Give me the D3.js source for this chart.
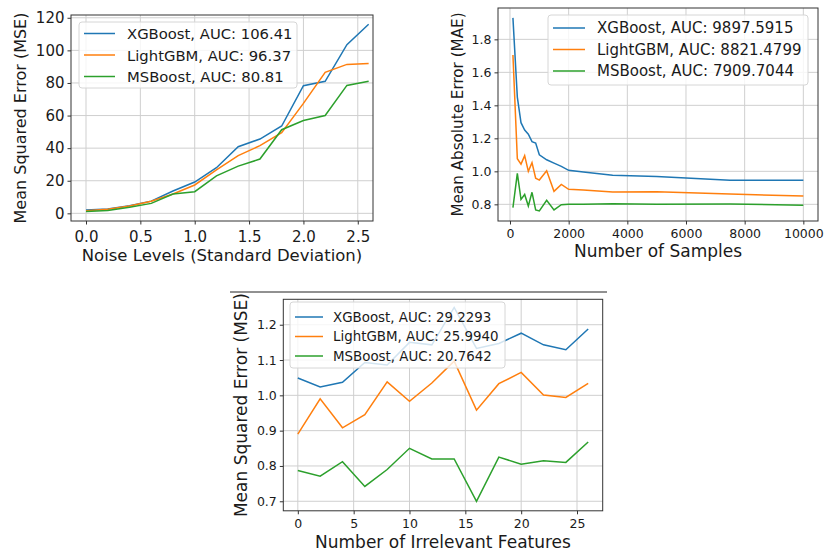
<!DOCTYPE html>
<html>
<head>
<meta charset="utf-8">
<script src="https://cdn.jsdelivr.net/npm/d3@7"></script>
<style>
  body { margin: 0; background: #fff; }
  svg { display: block; font-family: "DejaVu Sans", sans-serif; }
  text { fill: #1a1a1a; }
</style>
</head>
<body>
<svg id="chart"></svg>
<script>
// ---- data ----
const modelNames = ['XGBoost', 'LightGBM', 'MSBoost'];
const colors = ['#1f77b4', '#ff7f0e', '#2ca02c'];

// panel 1: noise levels
const noiseLevels = [0, 0.2, 0.4, 0.6, 0.8, 1.0, 1.2, 1.4, 1.6, 1.8, 2.0, 2.2, 2.4, 2.6];
const noiseXgb = [2.0, 2.7, 4.7, 7.5, 13.7, 19.2, 28.0, 40.9, 45.6, 53.6, 78.3, 81.0, 103.5, 116.0];
const noiseLgbm = [1.6, 2.5, 4.5, 7.4, 11.9, 17.4, 26.6, 35.4, 41.5, 49.5, 67.5, 86.5, 91.4, 92.0];
const noiseMsb = [1.2, 1.8, 3.7, 6.1, 11.9, 13.3, 23.0, 29.0, 33.3, 51.3, 57.0, 60.0, 78.5, 81.0];
const noiseAuc = ['106.41', '96.37', '80.81'];
const noiseYTicks = [0, 20, 40, 60, 80, 100, 120];
const noiseXTicks = [0, 0.5, 1.0, 1.5, 2.0, 2.5];

// panel 2: number of samples
const sampleSizes = [100, 250, 375, 500, 625, 750, 875, 1000, 1250, 1500, 1750, 2000, 2500, 3500, 5000, 7500, 10000];
const samplesXgb = [1.93, 1.45, 1.295, 1.25, 1.225, 1.18, 1.172, 1.10, 1.07, 1.05, 1.03, 1.006, 0.996, 0.977, 0.968, 0.946, 0.946];
const samplesLgbm = [1.705, 1.077, 1.044, 1.095, 1.0, 1.053, 0.958, 0.947, 1.004, 0.879, 0.921, 0.891, 0.887, 0.875, 0.876, 0.862, 0.851];
const samplesMsb = [0.78, 0.988, 0.83, 0.86, 0.79, 0.873, 0.766, 0.76, 0.824, 0.766, 0.798, 0.800, 0.800, 0.803, 0.801, 0.802, 0.795];
const samplesAuc = ['9897.5915', '8821.4799', '7909.7044'];
const samplesYTicks = [0.8, 1.0, 1.2, 1.4, 1.6, 1.8];
const samplesXTicks = [0, 2000, 4000, 6000, 8000, 10000];

// panel 3: irrelevant features
const featureCounts = [0, 2, 4, 6, 8, 10, 12, 14, 16, 18, 20, 22, 24, 26];
const featXgb = [1.049, 1.024, 1.037, 1.093, 1.086, 1.150, 1.143, 1.249, 1.133, 1.147, 1.176, 1.143, 1.129, 1.188];
const featLgbm = [0.890, 0.990, 0.908, 0.945, 1.038, 0.983, 1.035, 1.097, 0.958, 1.033, 1.065, 1.001, 0.994, 1.034];
const featMsb = [0.787, 0.771, 0.812, 0.742, 0.790, 0.850, 0.820, 0.820, 0.700, 0.825, 0.805, 0.815, 0.810, 0.868];
const featAuc = ['29.2293', '25.9940', '20.7642'];
const featYTicks = [0.7, 0.8, 0.9, 1.0, 1.1, 1.2];
const featXTicks = [0, 5, 10, 15, 20, 25];

const width = 827;
const height = 552;

const svg = d3.select('#chart')
  .attr('width', width)
  .attr('height', height);

function drawPanel(p) {
  const g = svg.append('g');
  const x = d3.scaleLinear().domain(p.xDomain).range([p.left, p.right]);
  const y = d3.scaleLinear().domain(p.yDomain).range([p.bottom, p.top]);

  // grid
  g.selectAll('.gx').data(p.xTicks).enter().append('line')
    .attr('x1', d => x(d)).attr('x2', d => x(d))
    .attr('y1', p.top).attr('y2', p.bottom)
    .attr('stroke', '#cfcfcf').attr('stroke-width', 1);
  g.selectAll('.gy').data(p.yTicks).enter().append('line')
    .attr('x1', p.left).attr('x2', p.right)
    .attr('y1', d => y(d)).attr('y2', d => y(d))
    .attr('stroke', '#cfcfcf').attr('stroke-width', 1);

  // lines
  const line = d3.line().x(d => x(d[0])).y(d => y(d[1]));
  p.series.forEach((s, i) => {
    g.append('path')
      .datum(p.xs.map((v, j) => [v, s[j]]))
      .attr('fill', 'none')
      .attr('stroke', colors[i])
      .attr('stroke-width', 1.5)
      .attr('d', line);
  });

  // axes
  const xAxis = d3.axisBottom(x).tickValues(p.xTicks).tickFormat(p.xFmt).tickSize(3.5).tickPadding(3);
  const yAxis = d3.axisLeft(y).tickValues(p.yTicks).tickFormat(p.yFmt).tickSize(3.5).tickPadding(3);
  const ax = g.append('g').attr('transform', `translate(0,${p.bottom})`).call(xAxis);
  const ay = g.append('g').attr('transform', `translate(${p.left},0)`).call(yAxis);
  [ax, ay].forEach(a => {
    a.select('.domain').remove();
    a.selectAll('line').attr('stroke', '#333');
    a.selectAll('text').attr('font-size', p.tickSize).attr('fill', '#1a1a1a')
      .attr('font-family', '"DejaVu Sans", sans-serif');
  });
  ax.selectAll('text').attr('dy', null).attr('y', null)
    .attr('dominant-baseline', 'central')
    .attr('transform', `translate(0,${p.xTickY - p.bottom})`);

  g.append('rect')
    .attr('x', p.left).attr('y', p.top)
    .attr('width', p.right - p.left).attr('height', p.bottom - p.top)
    .attr('fill', 'none').attr('stroke', '#333').attr('stroke-width', 1);

  // axis labels
  g.append('text')
    .attr('x', (p.left + p.right) / 2).attr('y', p.xLabelY)
    .attr('text-anchor', 'middle').attr('dominant-baseline', 'central')
    .attr('font-size', p.xLabelSize).text(p.xLabel);
  g.append('text')
    .attr('transform', `translate(${p.yLabelX},${(p.top + p.bottom) / 2}) rotate(-90)`)
    .attr('text-anchor', 'middle').attr('dominant-baseline', 'central')
    .attr('font-size', p.yLabelSize).text(p.yLabel);

  // legend
  const L = p.legend;
  g.append('rect')
    .attr('x', L.x).attr('y', L.y).attr('width', L.w).attr('height', L.h)
    .attr('rx', 3)
    .attr('fill', 'white').attr('fill-opacity', 0.8)
    .attr('stroke', '#d6d6d6');
  modelNames.forEach((name, i) => {
    const ry = L.y + L.first + i * L.step;
    g.append('line')
      .attr('x1', L.x + L.pad).attr('x2', L.x + L.pad + L.lineLen)
      .attr('y1', ry).attr('y2', ry)
      .attr('stroke', colors[i]).attr('stroke-width', 1.5);
    g.append('text')
      .attr('x', L.x + L.textOff).attr('y', ry)
      .attr('dominant-baseline', 'central')
      .attr('font-size', L.size)
      .text(`${name}, AUC: ${p.auc[i]}`);
  });
}

drawPanel({
  left: 71, right: 373, top: 15, bottom: 221,
  xDomain: [-0.138, 2.64], yDomain: [-4.7, 121.7],
  xs: noiseLevels, series: [noiseXgb, noiseLgbm, noiseMsb], auc: noiseAuc,
  xTicks: noiseXTicks, yTicks: noiseYTicks,
  xFmt: d3.format('.1f'), yFmt: d3.format('d'),
  tickSize: 15, xTickY: 237,
  xLabel: 'Noise Levels (Standard Deviation)', xLabelY: 255, xLabelSize: 16.5,
  yLabel: 'Mean Squared Error (MSE)', yLabelX: 20, yLabelSize: 16,
  legend: { x: 79, y: 22, w: 218, h: 66, pad: 5, lineLen: 31, textOff: 48, first: 11.5, step: 21.5, size: 14.8 }
});

drawPanel({
  left: 498, right: 818, top: 8, bottom: 221,
  xDomain: [-409, 10500], yDomain: [0.699, 1.99],
  xs: sampleSizes, series: [samplesXgb, samplesLgbm, samplesMsb], auc: samplesAuc,
  xTicks: samplesXTicks, yTicks: samplesYTicks,
  xFmt: d3.format('d'), yFmt: d3.format('.1f'),
  tickSize: 12.5, xTickY: 233,
  xLabel: 'Number of Samples', xLabelY: 251, xLabelSize: 17,
  yLabel: 'Mean Absolute Error (MAE)', yLabelX: 458, yLabelSize: 15.2,
  legend: { x: 548, y: 15, w: 260, h: 70, pad: 5, lineLen: 32, textOff: 49, first: 13, step: 21.5, size: 15 }
});

drawPanel({
  left: 283.3, right: 602.7, top: 299.3, bottom: 510.8,
  xDomain: [-1.3, 27.3], yDomain: [0.673, 1.272],
  xs: featureCounts, series: [featXgb, featLgbm, featMsb], auc: featAuc,
  xTicks: featXTicks, yTicks: featYTicks,
  xFmt: d3.format('d'), yFmt: d3.format('.1f'),
  tickSize: 12.5, xTickY: 523,
  xLabel: 'Number of Irrelevant Features', xLabelY: 542, xLabelSize: 17,
  yLabel: 'Mean Squared Error (MSE)', yLabelX: 241, yLabelSize: 17,
  legend: { x: 290, y: 302, w: 215, h: 66, pad: 5, lineLen: 28, textOff: 43, first: 15, step: 19.5, size: 13.4 }
});

// rule above the bottom panel
svg.append('line')
  .attr('x1', 230).attr('x2', 607)
  .attr('y1', 292).attr('y2', 292)
  .attr('stroke', '#222').attr('stroke-width', 1);
</script>
</body>
</html>
